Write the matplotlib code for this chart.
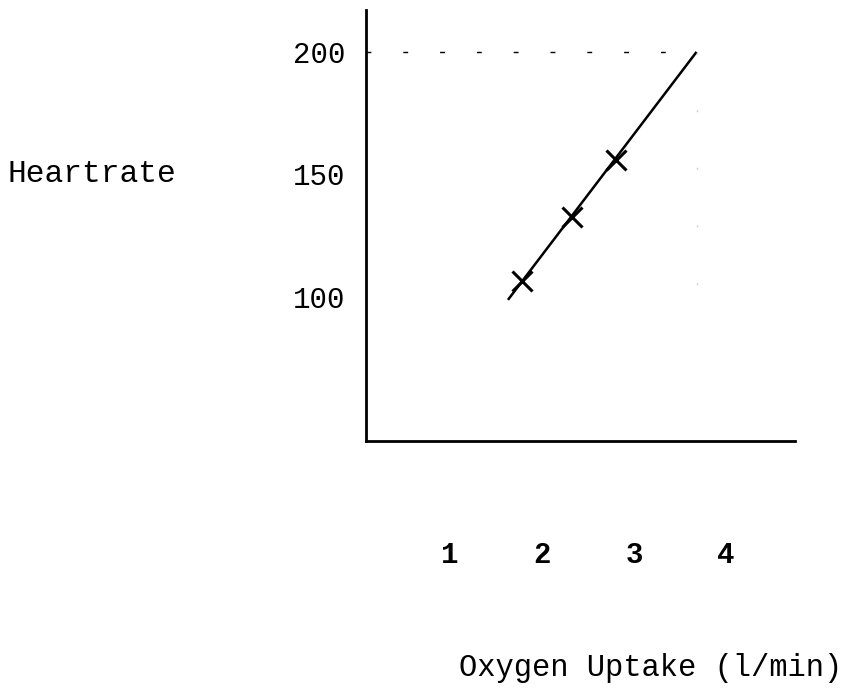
import matplotlib.pyplot as plt

# measured points (oxygen uptake l/min, heart rate bpm)
o2 = [1.78, 2.33, 2.80]
hr = [106.5, 132.7, 155.9]

# hand-drawn line of best fit, extended to max heart rate
fit_x = [1.63, 3.68]
fit_y = [98.8, 200]
hr_max = 200

x_ticks = [1, 2, 3, 4]
y_ticks = [100, 150, 200]

plt.rcParams['font.family'] = ['Liberation Mono', 'DejaVu Sans Mono']

fig = plt.figure(figsize=(8.47, 6.89), dpi=100)
ax = fig.add_axes([366 / 847, 1 - 441 / 689, (795 - 366) / 847, (441 - 10) / 689])

ax.plot(fit_x, fit_y, color='black', lw=1.8, solid_capstyle='butt')
ax.plot(o2, hr, linestyle='none', marker='x', color='black', markersize=15, mew=2.2)

# dashed reference at max heart rate, faint vertical drop
ax.plot([0.087, fit_x[1]], [hr_max, hr_max], color='black', lw=1, dashes=(3.5, 23))
ax.plot([fit_x[1], fit_x[1]], [hr_max, 95], color='#d0d0d0', lw=1, dashes=(1.5, 40))

ax.set_xlim(0.087, 4.75)
ax.set_ylim(41.2, 217.1)

ax.set_xticks(x_ticks)
ax.set_xticklabels([str(v) for v in x_ticks], fontsize=21, fontweight='bold')
ax.set_yticks(y_ticks)
ax.set_yticklabels([str(v) for v in y_ticks], fontsize=21)
ax.tick_params(axis='x', length=0, pad=72)
ax.tick_params(axis='y', length=0, pad=15)

for s in ['top', 'right']:
    ax.spines[s].set_visible(False)
for s in ['left', 'bottom']:
    ax.spines[s].set_linewidth(2)

fig.text(8 / 847, 1 - 174 / 689, 'Heartrate', fontsize=22.5, ha='left', va='center')
fig.text(459 / 847, 1 - 668 / 689, 'Oxygen Uptake (l/min)', fontsize=22, ha='left', va='center')

fig.savefig('out.png', dpi=100)
